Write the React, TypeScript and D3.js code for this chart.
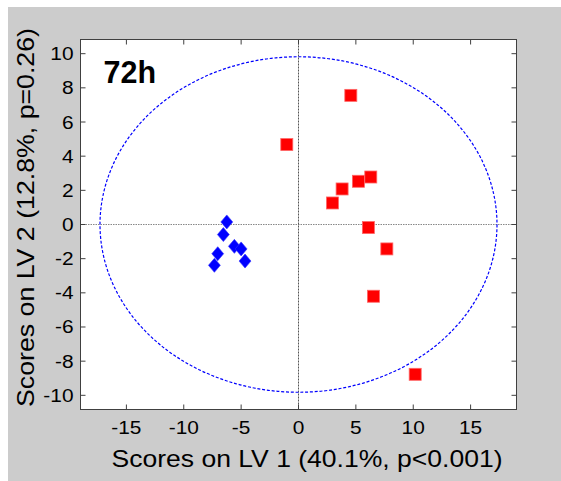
import React from "react";
import * as d3 from "d3";

const redX = [4.56, -1.02, 6.3, 5.22, 3.8, 2.96, 6.09, 7.7, 6.53, 10.17];
const redY = [7.56, 4.68, 2.78, 2.53, 2.08, 1.26, -0.18, -1.43, -4.2, -8.77];
const blueX = [-6.25, -6.55, -5.59, -5.0, -4.66, -7.04, -7.33];
const blueY = [0.15, -0.59, -1.28, -1.43, -2.14, -1.71, -2.39];
const xTicks = [-15, -10, -5, 0, 5, 10, 15];
const yTicks = [-10, -8, -6, -4, -2, 0, 2, 4, 6, 8, 10];
const xDomain = [-19, 19];
const yDomain = [-10.83, 10.83];
const ellipseCenter = [0, 0];
const ellipseRadii = [17.3, 9.82];
const xLabel = "Scores on LV 1 (40.1%, p<0.001)";
const yLabel = "Scores on LV 2 (12.8%, p=0.26)";
const panelTitle = "72h";

export default function App() {
  const L = 80.5, R = 516.5, T = 39.5, B = 409.5;
  const x = d3.scaleLinear().domain(xDomain).range([L, R]);
  const y = d3.scaleLinear().domain(yDomain).range([B, T]);
  const font = "'Liberation Sans', Arial, Helvetica, sans-serif";
  const tk = 5;
  const sq = 12;
  const dm = 7;
  const sx = 1.16;
  return (
    <svg width={561} height={481} style={{ position: "absolute", left: 0, top: 0 }}>
      <rect x={8} y={7} width={553} height={474} fill="#cccccc" />
      <rect x={L} y={T} width={R - L} height={B - T} fill="#ffffff" />
      <clipPath id="pc">
        <rect x={L} y={T} width={R - L} height={B - T} />
      </clipPath>
      <g clipPath="url(#pc)">
        <line x1={L} x2={R} y1={y(0)} y2={y(0)} stroke="#888" strokeWidth={1} strokeDasharray="1.5,1" />
        <line x1={x(0)} x2={x(0)} y1={T} y2={B} stroke="#555" strokeWidth={1} strokeDasharray="2,1" />
        <ellipse
          cx={x(ellipseCenter[0])}
          cy={y(ellipseCenter[1])}
          rx={x(ellipseRadii[0]) - x(0)}
          ry={y(0) - y(ellipseRadii[1])}
          fill="none"
          stroke="#0000ff"
          strokeWidth={1.2}
          strokeDasharray="3,1.8"
        />
        {redX.map((v, i) => (
          <rect key={"r" + i} x={x(v) - sq / 2} y={y(redY[i]) - sq / 2} width={sq} height={sq}
            fill="#ff0000" stroke="#ff6666" strokeWidth={0.8} />
        ))}
        {blueX.map((v, i) => {
          const cx = x(v), cy = y(blueY[i]);
          return (
            <path key={"b" + i}
              d={`M${cx},${cy - dm}L${cx + dm * 0.85},${cy}L${cx},${cy + dm}L${cx - dm * 0.85},${cy}Z`}
              fill="#0000ff" stroke="#3333ff" strokeWidth={0.6} />
          );
        })}
      </g>
      <rect x={L} y={T} width={R - L} height={B - T} fill="none" stroke="#404040" strokeWidth={1} />
      {xTicks.map((t) => (
        <g key={"xt" + t}>
          <line x1={x(t)} x2={x(t)} y1={B} y2={B - tk} stroke="#404040" />
          <line x1={x(t)} x2={x(t)} y1={T} y2={T + tk} stroke="#404040" />
          <text transform={`translate(${x(t)},433.5) scale(${sx},1)`} textAnchor="middle" fontFamily={font} fontSize={18} fill="#000">
            {t}
          </text>
        </g>
      ))}
      {yTicks.map((t) => (
        <g key={"yt" + t}>
          <line x1={L} x2={L + tk} y1={y(t)} y2={y(t)} stroke="#404040" />
          <line x1={R} x2={R - tk} y1={y(t)} y2={y(t)} stroke="#404040" />
          <text transform={`translate(73.5,${y(t) + 6.5}) scale(${sx},1)`} textAnchor="end" fontFamily={font} fontSize={18} fill="#000">
            {t}
          </text>
        </g>
      ))}
      <text x={307} y={467} textAnchor="middle" fontFamily={font} fontSize={24} fill="#000"
        textLength={391} lengthAdjust="spacingAndGlyphs">
        {xLabel}
      </text>
      <text transform="translate(33.5,217.5) rotate(-90)" textAnchor="middle" fontFamily={font} fontSize={24} fill="#000"
        textLength={379} lengthAdjust="spacingAndGlyphs">
        {yLabel}
      </text>
      <text x={103.5} y={83.3} fontFamily={font} fontSize={30.5} fontWeight="bold" fill="#000">
        {panelTitle}
      </text>
    </svg>
  );
}
